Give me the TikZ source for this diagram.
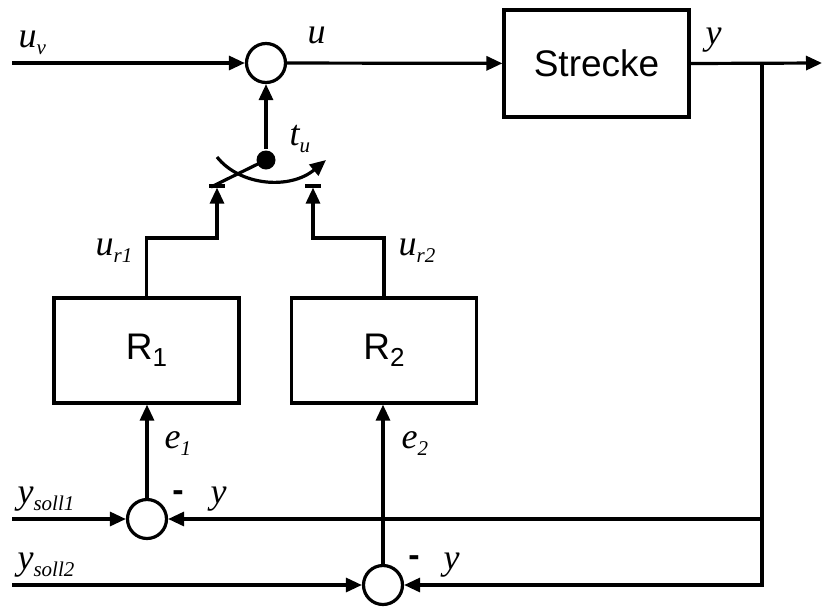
\documentclass[tikz,border=0pt]{standalone}
\usepackage{fontspec}
\setmainfont{Liberation Serif}
\newfontfamily\sansf{Liberation Sans}
\usetikzlibrary{arrows.meta}
\newcommand\sbs[1]{\raisebox{-0.2em}{\fontsize{21}{21}\selectfont #1}}
\begin{document}
\begin{tikzpicture}[x=1pt,y=-1pt,
  line width=3.2pt,
  sig/.style={-{Triangle[length=16pt,width=14pt]}},
  sumnode/.style={circle,draw,minimum size=39pt,inner sep=0pt},
  blk/.style={draw,rectangle,inner sep=0pt},
  lab/.style={anchor=base west,inner sep=0pt,font=\fontsize{36}{36}\selectfont\itshape},
  minus/.style={anchor=base,inner sep=0pt,font=\sansf\bfseries\fontsize{34}{34}\selectfont},
  bigsans/.style={font=\sansf\fontsize{37}{37}\selectfont}
]
\useasboundingbox (0,0) rectangle (822,606);
% nodes
\node[sumnode] (s0) at (266,63) {};
\node[blk,bigsans,minimum width=185pt,minimum height=107pt] (str) at (596.5,63.5) {Strecke};
\node[blk,bigsans,minimum width=185pt,minimum height=105pt] (r1) at (146.5,350.5) {R\raisebox{-0.18em}{\fontsize{26}{26}\selectfont 1}};
\node[blk,bigsans,minimum width=185pt,minimum height=105pt] (r2) at (384,350.5) {R\raisebox{-0.18em}{\fontsize{26}{26}\selectfont 2}};
\node[sumnode] (s1) at (147,519) {};
\node[sumnode] (s2) at (383,585) {};
\node[circle,fill,inner sep=0pt,minimum size=19pt] (dot) at (266,160) {};
% coordinates
\coordinate (uin) at (12,63);
\coordinate (yout) at (822,63);
\coordinate (br) at (762,63);
\coordinate (fb1) at (762,519);
\coordinate (ys1) at (12,519);
\coordinate (ys2) at (12,585);
\coordinate (c1) at (217,186);
\coordinate (c2) at (313,186);
\coordinate (c1b) at (217,187.6);
\coordinate (c2b) at (313,187.6);
\coordinate (k1) at (217,238);
\coordinate (k2) at (313,238);
\coordinate (bl) at (211,187);
\coordinate (arcS) at (217,157);
\coordinate (arcE) at (326,160);
% connectors
\draw[sig] (uin) -- (s0);
\draw[sig] (s0) -- (str);
\draw[sig] (str.east) -- (yout);
\draw[sig] (br) |- (s2);
\draw[sig] (dot) -- (s0);
\draw (dot.center) -- (bl);
\draw[sig] (arcS) .. controls (240,186) and (290,190) .. (arcE);
\draw ([xshift=-8pt]c1) -- ([xshift=8pt]c1);
\draw ([xshift=-8pt]c2) -- ([xshift=8pt]c2);
\draw[sig] (r1.north) |- (k1) -- (c1b);
\draw[sig] (r2.north) |- (k2) -- (c2b);
\draw[sig] (s1) -- (s1 |- r1.south);
\draw[sig] (s2) -- (s2 |- r2.south);
\draw[sig] (ys1) -- (s1);
\draw[sig] (fb1) -- (s1);
\draw[sig] (ys2) -- (s2);
% labels
\node[lab] (luv) at (17,47) {u\sbs{v}};
\node[lab] (lu) at (306,43) {u};
\node[lab] (ly) at (704,44) {y};
\node[lab] (ltu) at (288,145) {t\sbs{u}};
\node[lab] (lur1) at (94,255) {u\sbs{r1}};
\node[lab] (lur2) at (397,255) {u\sbs{r2}};
\node[lab] (le1) at (163,448) {e\sbs{1}};
\node[lab] (le2) at (400,448) {e\sbs{2}};
\node[lab] (lys1) at (16,503) {y\sbs{soll1}};
\node[lab] (lys2) at (16,569) {y\sbs{soll2}};
\node[lab] (lyf1) at (209,503) {y};
\node[lab] (lyf2) at (442,569) {y};
\node[minus] (m1) at (178,501) {-};
\node[minus] (m2) at (414,566) {-};
\end{tikzpicture}
\end{document}
